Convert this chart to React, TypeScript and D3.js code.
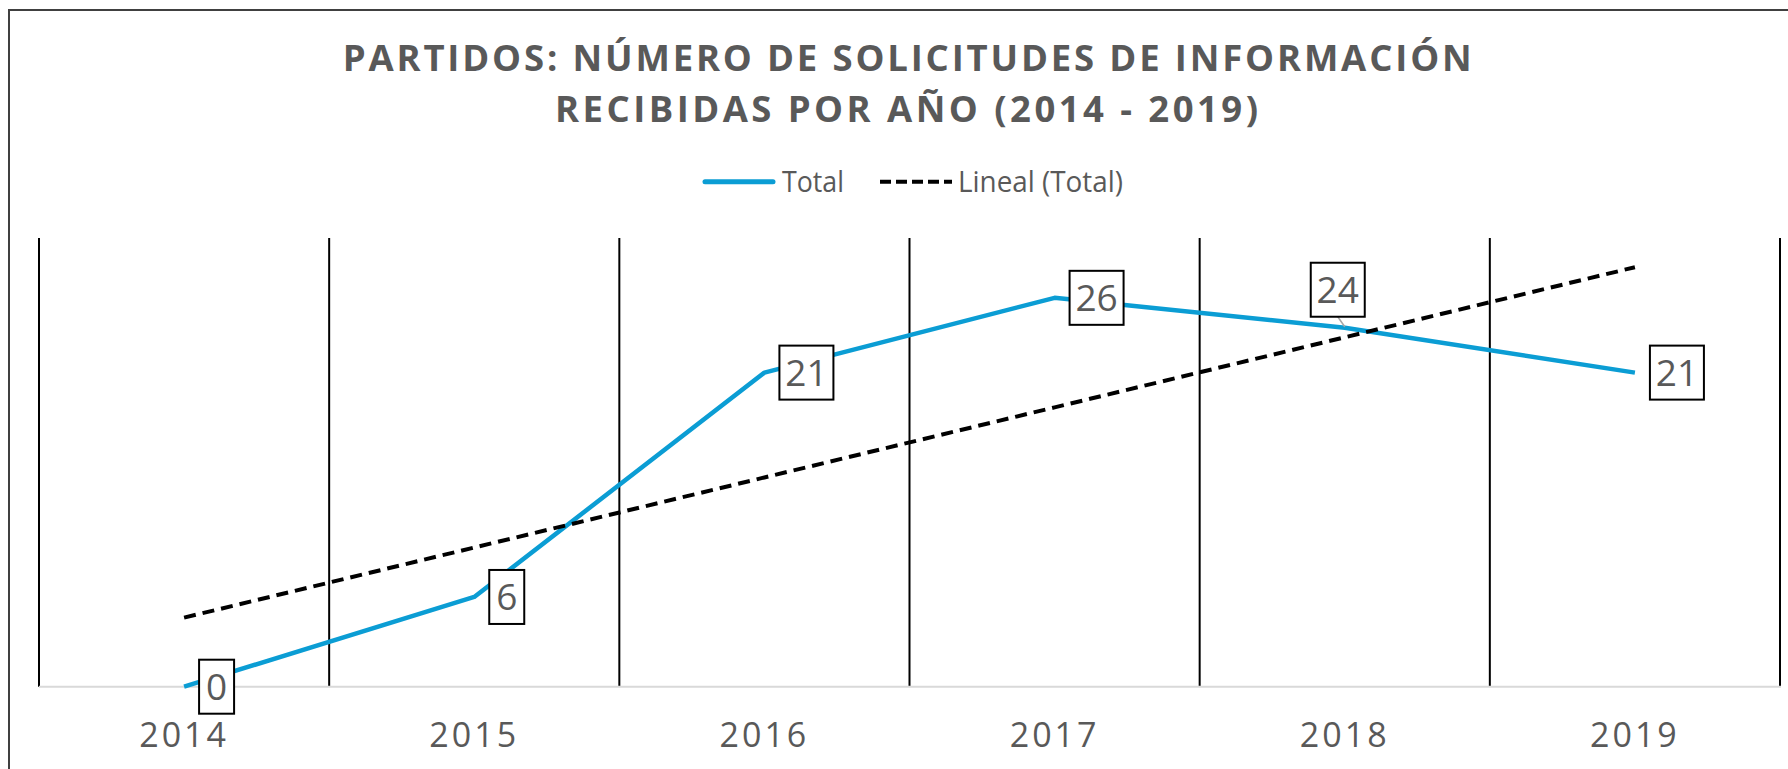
import React from "react";
import * as d3 from "d3";

const years = ["2014", "2015", "2016", "2017", "2018", "2019"];
const totals = [0, 6, 21, 26, 24, 21];
const yDomain = [0, 30];
const titleLines = [
  "PARTIDOS: NÚMERO DE SOLICITUDES DE INFORMACIÓN",
  "RECIBIDAS POR AÑO (2014 - 2019)",
];
const legendLabels = ["Total", "Lineal (Total)"];

const W = 1788;
const H = 769;
const TEXT = "#595959";
const BLUE = "#0b9dd4";
const FONT = "'Open Sans', 'Noto Sans', sans-serif";

// linear regression for trendline
function linReg(vals: number[]) {
  const xs = vals.map((_, i) => i + 1);
  const mx = d3.mean(xs) as number;
  const my = d3.mean(vals) as number;
  let sxy = 0,
    sxx = 0;
  xs.forEach((x, i) => {
    sxy += (x - mx) * (vals[i] - my);
    sxx += (x - mx) * (x - mx);
  });
  const b = sxy / sxx;
  const a = my - b * mx;
  return xs.map((x) => a + b * x);
}

export default function App() {
  const x = d3.scaleBand<string>().domain(years).range([39, 1780]).padding(0);
  const y = d3.scaleLinear().domain(yDomain).range([686.7, 238]);
  const cx = (yr: string) => (x(yr) as number) + x.bandwidth() / 2;

  const trend = linReg(totals);
  const line = d3
    .line<number>()
    .x((_, i) => cx(years[i]))
    .y((d) => y(d));

  const boundaries = d3.range(years.length + 1).map((i) => 39 + i * x.bandwidth());

  return (
    <svg
      width={W}
      height={H}
      style={{ position: "absolute", left: 0, top: 0, background: "#fff" }}
    >
      <rect x={0} y={0} width={W} height={H} fill="#fff" />
      {/* outer border */}
      <rect x={9} y={10} width={W + 20} height={H + 20} fill="none" stroke="#404040" strokeWidth={2} />

      {/* title */}
      <text x={342.7} y={70.7} fontFamily={FONT} fontWeight="bold" fontSize={36.5} fill={TEXT} textLength={1129} lengthAdjust="spacing">
        {titleLines[0]}
      </text>
      <text x={555} y={121.7} fontFamily={FONT} fontWeight="bold" fontSize={36.5} fill={TEXT} textLength={703} lengthAdjust="spacing">
        {titleLines[1]}
      </text>

      {/* legend */}
      <line x1={705} x2={773} y1={181.7} y2={181.7} stroke={BLUE} strokeWidth={5} strokeLinecap="round" />
      <text x={782} y={192} fontFamily={FONT} fontSize={30} fill={TEXT} textLength={62} lengthAdjust="spacingAndGlyphs">
        {legendLabels[0]}
      </text>
      <line x1={880} x2={952} y1={181.7} y2={181.7} stroke="#000" strokeWidth={4} strokeDasharray="11 5" />
      <text x={958} y={192} fontFamily={FONT} fontSize={30} fill={TEXT} textLength={165} lengthAdjust="spacingAndGlyphs">
        {legendLabels[1]}
      </text>

      {/* vertical gridlines */}
      {boundaries.map((bx, i) => (
        <line key={i} x1={bx} x2={bx} y1={238} y2={686.7} stroke="#000" strokeWidth={2} />
      ))}
      {/* baseline */}
      <line x1={39} x2={1781} y1={686.7} y2={686.7} stroke="#d9d9d9" strokeWidth={2} />

      {/* series */}
      <path d={line(totals) as string} fill="none" stroke={BLUE} strokeWidth={4.5} strokeLinejoin="round" />
      {/* trendline */}
      <path d={line(trend) as string} fill="none" stroke="#000" strokeWidth={4} strokeDasharray="12 7" />

      {/* x axis labels */}
      {years.map((yr) => (
        <text key={yr} x={cx(yr)} y={747} textAnchor="middle" fontFamily={FONT} fontSize={34} fill={TEXT} letterSpacing={3}>
          {yr}
        </text>
      ))}

      {/* data labels */}
      {totals.map((v, i) => {
        const px = cx(years[i]);
        const py = y(v);
        const label = String(v);
        const bw = label.length === 1 ? 35 : 54;
        const bh = 54;
        const above = i === 4;
        let bx: number, by: number;
        if (above) {
          bx = px - 7 - bw / 2;
          by = py - 11 - bh;
        } else {
          bx = px + 15;
          by = py - bh / 2;
        }
        return (
          <g key={i}>
            {above && (
              <line x1={bx + bw / 2} y1={by + bh} x2={px} y2={py - 1} stroke="#a6a6a6" strokeWidth={1.5} />
            )}
            <rect x={bx} y={by} width={bw} height={bh} fill="#fff" stroke="#000" strokeWidth={2} />
            <text x={bx + bw / 2} y={by + bh / 2 + 13} textAnchor="middle" fontFamily={FONT} fontSize={37} fill={TEXT}>
              {label}
            </text>
          </g>
        );
      })}
    </svg>
  );
}
